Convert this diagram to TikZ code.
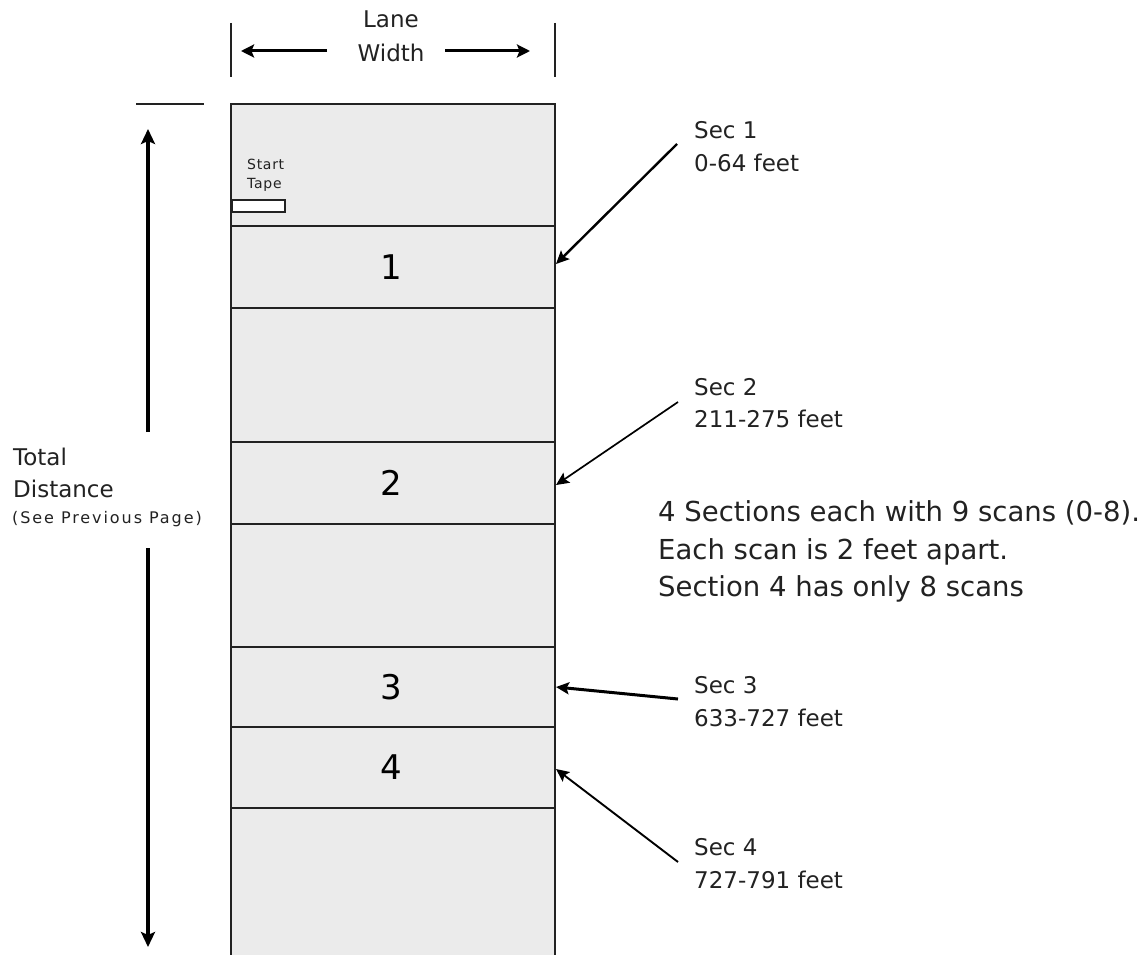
\documentclass[tikz,border=0pt]{standalone}
\usepackage{fontspec}
\setmainfont{DejaVu Sans}
\newfontfamily\notefont[LetterSpace=12]{DejaVu Sans}
\newfontfamily\tapefont[LetterSpace=5]{DejaVu Sans}
\usetikzlibrary{arrows.meta}
\definecolor{lanefill}{HTML}{EBEBEB}
\definecolor{ink}{HTML}{222222}
\tikzset{
  lbl/.style={anchor=base west, inner sep=0pt, font=\fontsize{23}{28}\selectfont, text=ink},
  notetxt/.style={anchor=base west, inner sep=0pt, font=\fontsize{27.5}{33}\selectfont, text=ink},
  num/.style={inner sep=0pt, font=\fontsize{34}{40}\selectfont, text=black},
  ptr/.style={draw=black, -{Stealth[length=13pt,width=12pt,inset=2.5pt]}},
  dimarrow/.style={draw=black, line width=3.2pt, -{Stealth[length=15pt,width=14pt,inset=3pt]}},
  widtharrow/.style={draw=black, line width=3pt, -{Stealth[length=13pt,width=13pt,inset=2.5pt]}},
  divider/.style={draw=ink, line width=1.2pt},
}
\begin{document}
\begin{tikzpicture}[x=1pt,y=-1pt]
\useasboundingbox (0,0) rectangle (1145,955);
\fill[white] (0,0) rectangle (1145,955);

% lane
\fill[lanefill] (231,104) rectangle (555,955);
\draw[ink, line width=1.6pt] (231,955) -- (231,104) -- (555,104) -- (555,955);
\foreach \yy in {226,308,442,524,647,727,808}
  \draw[divider] (231,\yy) -- (555,\yy);

% start tape
\node[anchor=base west, inner sep=0pt, font=\tapefont\fontsize{14}{16}\selectfont, text=ink] (start) at (247,169) {Start};
\node[anchor=base west, inner sep=0pt, font=\tapefont\fontsize{14}{16}\selectfont, text=ink] (tape) at (247,188) {Tape};
\draw[ink, fill=white, line width=1.2pt] (232,200) rectangle (285,212);

% section numbers
\node[num] (n1) at (391,267) {1};
\node[num] (n2) at (391,483) {2};
\node[num] (n3) at (391,687) {3};
\node[num] (n4) at (391,767) {4};

% lane width
\draw[ink, line width=1.4pt] (231,23) -- (231,77);
\draw[ink, line width=1.4pt] (555,23) -- (555,77);
\node[anchor=base, inner sep=0pt, font=\fontsize{23}{28}\selectfont, text=ink] (lane) at (391,28) {Lane};
\node[anchor=base, inner sep=0pt, font=\fontsize{23}{28}\selectfont, text=ink] (width) at (391,62) {Width};
\coordinate (lwL) at (327,51);
\coordinate (lwLt) at (241,51);
\coordinate (lwR) at (445,51);
\coordinate (lwRt) at (530,51);
\draw[widtharrow] (lwL) -- (lwLt);
\draw[widtharrow] (lwR) -- (lwRt);

% total distance
\draw[ink, line width=1.4pt] (136,104) -- (204,104);
\coordinate (tdUs) at (148,432);
\coordinate (tdUt) at (148,129);
\coordinate (tdDs) at (148,548);
\coordinate (tdDt) at (148,947);
\draw[dimarrow] (tdUs) -- (tdUt);
\draw[dimarrow] (tdDs) -- (tdDt);
\node[lbl] (total) at (13,465) {Total};
\node[lbl] (dist) at (13,497) {Distance};
\node[anchor=base west, inner sep=0pt, font=\notefont\fontsize{16}{18}\selectfont, text=ink] (prev) at (12,523) {(See Previous Page)};

% section labels
\node[lbl] (s1a) at (694,139) {Sec 1};
\node[lbl] (s1b) at (694,171) {0-64 feet};
\node[lbl] (s2a) at (694,395) {Sec 2};
\node[lbl] (s2b) at (694,427) {211-275 feet};
\node[lbl] (s3a) at (694,693) {Sec 3};
\node[lbl] (s3b) at (694,726) {633-727 feet};
\node[lbl] (s4a) at (694,855) {Sec 4};
\node[lbl] (s4b) at (694,888) {727-791 feet};

\coordinate (a1s) at (677,144); \coordinate (a1t) at (556,264);
\coordinate (a2s) at (678,402); \coordinate (a2t) at (556,485);
\coordinate (a3s) at (678,699); \coordinate (a3t) at (556,687);
\coordinate (a4s) at (678,862); \coordinate (a4t) at (556,769);
\draw[ptr, line width=2.4pt] (a1s) -- (a1t);
\draw[ptr, line width=1.7pt] (a2s) -- (a2t);
\draw[ptr, line width=3pt] (a3s) -- (a3t);
\draw[ptr, line width=1.9pt] (a4s) -- (a4t);

% note
\node[notetxt] (note1) at (658,521) {4 Sections each with 9 scans (0-8).};
\node[notetxt] (note2) at (658,559) {Each scan is 2 feet apart.};
\node[notetxt] (note3) at (658,596) {Section 4 has only 8 scans};
\end{tikzpicture}
\end{document}
